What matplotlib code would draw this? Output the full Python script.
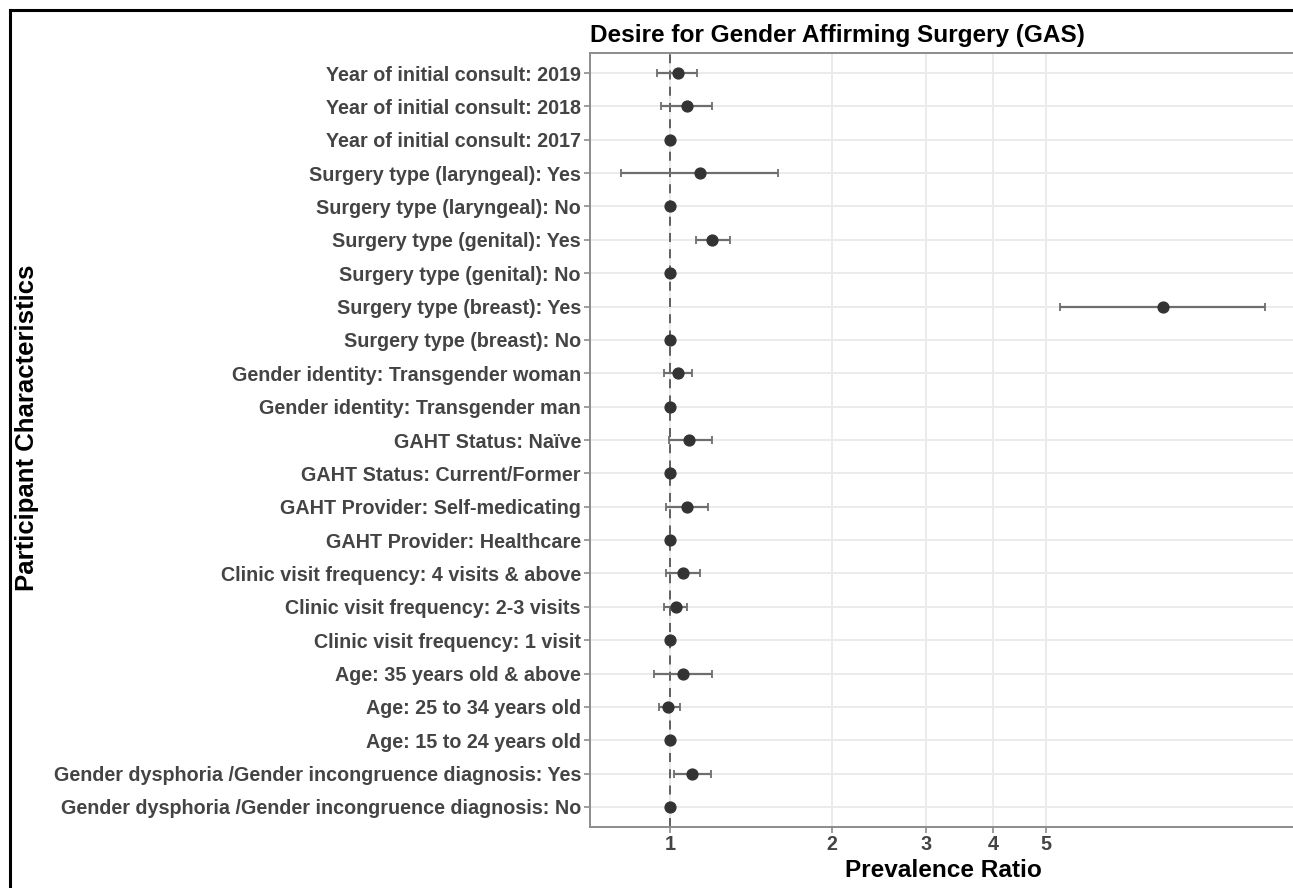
import matplotlib
matplotlib.use("Agg")
import matplotlib.pyplot as plt
from matplotlib.lines import Line2D
from matplotlib.ticker import FixedLocator, NullLocator, FixedFormatter

plt.rcParams['font.family'] = ['Liberation Sans', 'DejaVu Sans']

labels = [
    "Year of initial consult: 2019",
    "Year of initial consult: 2018",
    "Year of initial consult: 2017",
    "Surgery type (laryngeal): Yes",
    "Surgery type (laryngeal): No",
    "Surgery type (genital): Yes",
    "Surgery type (genital): No",
    "Surgery type (breast): Yes",
    "Surgery type (breast): No",
    "Gender identity: Transgender woman",
    "Gender identity: Transgender man",
    "GAHT Status: Naïve",
    "GAHT Status: Current/Former",
    "GAHT Provider: Self-medicating",
    "GAHT Provider: Healthcare",
    "Clinic visit frequency: 4 visits & above",
    "Clinic visit frequency: 2-3 visits",
    "Clinic visit frequency: 1 visit",
    "Age: 35 years old & above",
    "Age: 25 to 34 years old",
    "Age: 15 to 24 years old",
    "Gender dysphoria /Gender incongruence diagnosis: Yes",
    "Gender dysphoria /Gender incongruence diagnosis: No",
]
pr = [1.035, 1.073, 1.0, 1.137, 1.0, 1.198, 1.0, 8.27, 1.0, 1.033, 1.0, 1.085, 1.0,
      1.073, 1.0, 1.056, 1.025, 1.0, 1.056, 0.991, 1.0, 1.098, 1.0]
lower = [0.943, 0.962, None, 0.811, None, 1.115, None, 5.32, None, 0.972, None, 0.993, None,
         0.984, None, 0.984, 0.972, None, 0.934, 0.953, None, 1.017, None]
upper = [1.124, 1.198, None, 1.585, None, 1.29, None, 12.8, None, 1.099, None, 1.198, None,
         1.176, None, 1.136, 1.075, None, 1.198, 1.042, None, 1.191, None]
xticks = [1, 2, 3, 4, 5]

W, H = 1293, 888
fig = plt.figure(figsize=(W / 100, H / 100), dpi=100)
left, right, top, bottom = 590, 1297, 53, 827
ax = fig.add_axes([left / W, 1 - bottom / H, (right - left) / W, (bottom - top) / H])

n = len(labels)
ypos = list(range(n - 1, -1, -1))

ax.set_xscale('log')
ax.set_xlim(0.709, 14.7)
ax.set_ylim(-0.6, n - 1 + 0.6)

# grid
ax.xaxis.set_major_locator(FixedLocator(xticks))
ax.xaxis.set_minor_locator(NullLocator())
ax.xaxis.set_major_formatter(FixedFormatter([str(t) for t in xticks]))
ax.set_yticks(ypos)
ax.set_yticklabels(labels)
ax.grid(True, which='major', color='#EBEBEB', linewidth=1.4, zorder=0)
ax.set_axisbelow(True)

ax.axvline(1, color='#555555', linestyle=(0, (5, 4)), linewidth=1.3, zorder=2)

for y, p, lo, hi in zip(ypos, pr, lower, upper):
    if lo is not None:
        ax.errorbar([p], [y], xerr=[[p - lo], [hi - p]], fmt='none', ecolor='#6E6E6E',
                    elinewidth=1.6, capsize=2.8, capthick=1.3, zorder=3)
ax.plot(pr, ypos, 'o', color='#333333', markersize=7.8, zorder=4, linestyle='none')

for s in ax.spines.values():
    s.set_color('#8C8C8C')
    s.set_linewidth(1.4)

ax.tick_params(axis='both', which='major', length=4, width=1.2, color='#8C8C8C',
               labelcolor='#444444', pad=2.5)
ax.tick_params(axis='x', pad=1.5)
for lbl in ax.get_yticklabels():
    lbl.set_fontweight('bold')
    lbl.set_fontsize(14.2)
for lbl in ax.get_xticklabels():
    lbl.set_fontweight('bold')
    lbl.set_fontsize(14.2)

ax.set_title("Desire for Gender Affirming Surgery (GAS)", loc='left', fontsize=17.6,
             fontweight='bold', color='black', pad=8)
ax.set_xlabel("Prevalence Ratio", fontsize=17.6, fontweight='bold', color='black', labelpad=4)
fig.text(27 / W, 1 - 428 / H, "Participant Characteristics", rotation=90, fontsize=18.5,
         fontweight='bold', color='black', ha='center', va='center')

# outer black border (left and top visible)
fig.add_artist(Line2D([10 / W, 10 / W], [1 - 10 / H, 0], transform=fig.transFigure,
                      color='black', linewidth=2.2))
fig.add_artist(Line2D([10 / W, 1], [1 - 10 / H, 1 - 10 / H], transform=fig.transFigure,
                      color='black', linewidth=2.2))

fig.savefig("out.png", dpi=100)
